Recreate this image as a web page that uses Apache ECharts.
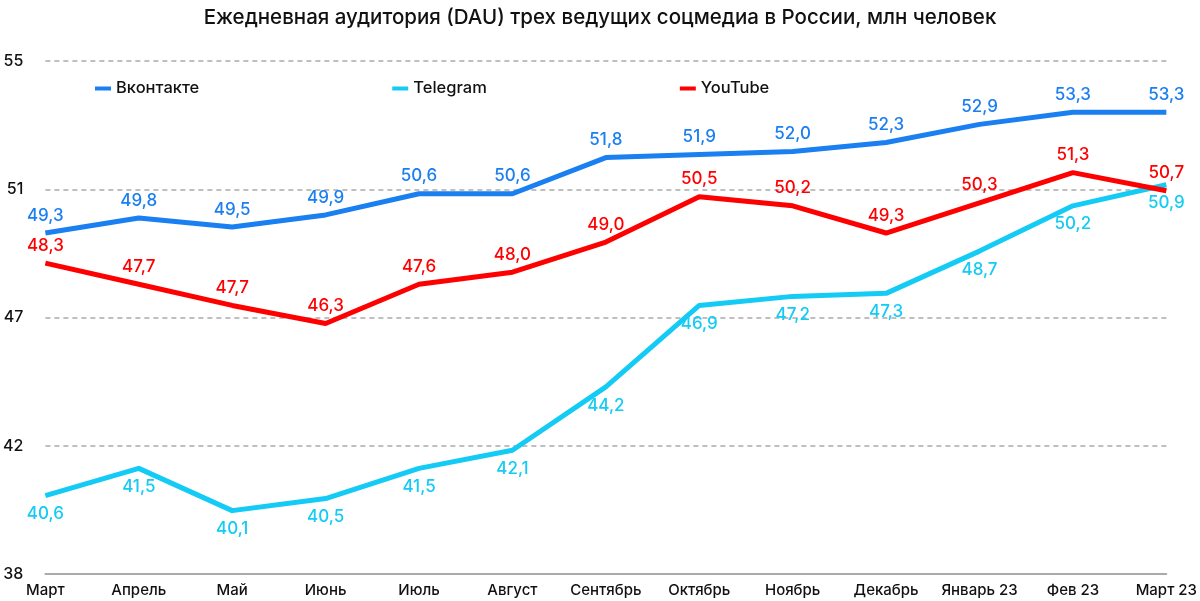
<!DOCTYPE html>
<html lang="ru">
<head>
    <meta charset="UTF-8">
    <title>DAU соцмедиа</title>
    <script src="https://cdn.jsdelivr.net/npm/echarts@6/dist/echarts.min.js"></script>
    <style>
        html, body { margin: 0; padding: 0; background: #fff; }
        #main { width: 1200px; height: 601px; }
    </style>
</head>
<body>
<div id="main"></div>
<script type="text/javascript">
    // данные
    var months = ['Март', 'Апрель', 'Май', 'Июнь', 'Июль', 'Август', 'Сентябрь', 'Октябрь', 'Ноябрь', 'Декабрь', 'Январь 23', 'Фев 23', 'Март 23'];
    var vk = [49.3, 49.8, 49.5, 49.9, 50.6, 50.6, 51.8, 51.9, 52.0, 52.3, 52.9, 53.3, 53.3];
    var telegram = [40.6, 41.5, 40.1, 40.5, 41.5, 42.1, 44.2, 46.9, 47.2, 47.3, 48.7, 50.2, 50.9];
    var youtube = [48.3, 47.6, 46.9, 46.3, 47.6, 48.0, 49.0, 50.5, 50.2, 49.3, 50.3, 51.3, 50.7];
    // подписи youtube как на оригинале
    var youtubeLabels = ['48,3', '47,7', '47,7', '46,3', '47,6', '48,0', '49,0', '50,5', '50,2', '49,3', '50,3', '51,3', '50,7'];

    var font = 'Inter, "Noto Sans", sans-serif';
    var fmt = function (p) { return p.value.toFixed(1).replace('.', ','); };

    var myChart = echarts.init(document.getElementById('main'));
    var option = {
        textStyle: {fontFamily: font},
        title: {
            text: 'Ежедневная аудитория (DAU) трех ведущих соцмедиа в России, млн человек',
            left: 'center',
            top: 2,
            textStyle: {fontSize: 20.5, fontWeight: 500, color: '#111', fontFamily: font}
        },
        legend: {
            left: 90,
            top: 75,
            itemGap: 193,
            itemWidth: 16,
            itemHeight: 4,
            icon: 'rect',
            textStyle: {fontSize: 16.5, fontWeight: 500, color: '#111', fontFamily: font},
            data: ['Вконтакте', 'Telegram', 'YouTube']
        },
        grid: {left: 42, right: 29, top: 61, bottom: 27, containLabel: false},
        xAxis: {
            type: 'category',
            boundaryGap: false,
            data: months,
            axisLine: {lineStyle: {color: '#aaa', width: 2}},
            axisTick: {show: false},
            axisLabel: {interval: 0, fontSize: 15, fontWeight: 500, color: '#111', margin: 9, fontFamily: font}
        },
        yAxis: {
            type: 'value',
            min: 38,
            max: 55,
            interval: 4.25,
            axisLine: {show: false},
            axisTick: {show: false},
            axisLabel: {
                fontSize: 16, fontWeight: 500, color: '#111', margin: 22, fontFamily: font,
                formatter: function (v) { return Math.round(v); }
            },
            splitLine: {lineStyle: {color: '#aaa', type: [5, 4], width: 1.5}}
        },
        series: [
            {
                name: 'Вконтакте',
                type: 'line',
                data: vk,
                symbol: 'circle',
                symbolSize: 0,
                color: '#1a7ff0',
                lineStyle: {width: 5},
                label: {show: true, position: 'top', distance: 9, color: '#1a7ff0', fontSize: 17, fontWeight: 500, formatter: fmt}
            },
            {
                name: 'Telegram',
                type: 'line',
                data: telegram,
                symbol: 'circle',
                symbolSize: 0,
                color: '#14cbf5',
                lineStyle: {width: 5},
                label: {show: true, position: 'bottom', distance: 10, color: '#14cbf5', fontSize: 17, fontWeight: 500, formatter: fmt}
            },
            {
                name: 'YouTube',
                type: 'line',
                data: youtube,
                symbol: 'circle',
                symbolSize: 0,
                color: '#ff0000',
                lineStyle: {width: 5},
                label: {
                    show: true, position: 'top', distance: 9, color: '#ff0000', fontSize: 17, fontWeight: 500,
                    formatter: function (p) { return youtubeLabels[p.dataIndex]; }
                }
            }
        ]
    };
    myChart.setOption(option);
</script>
</body>
</html>
